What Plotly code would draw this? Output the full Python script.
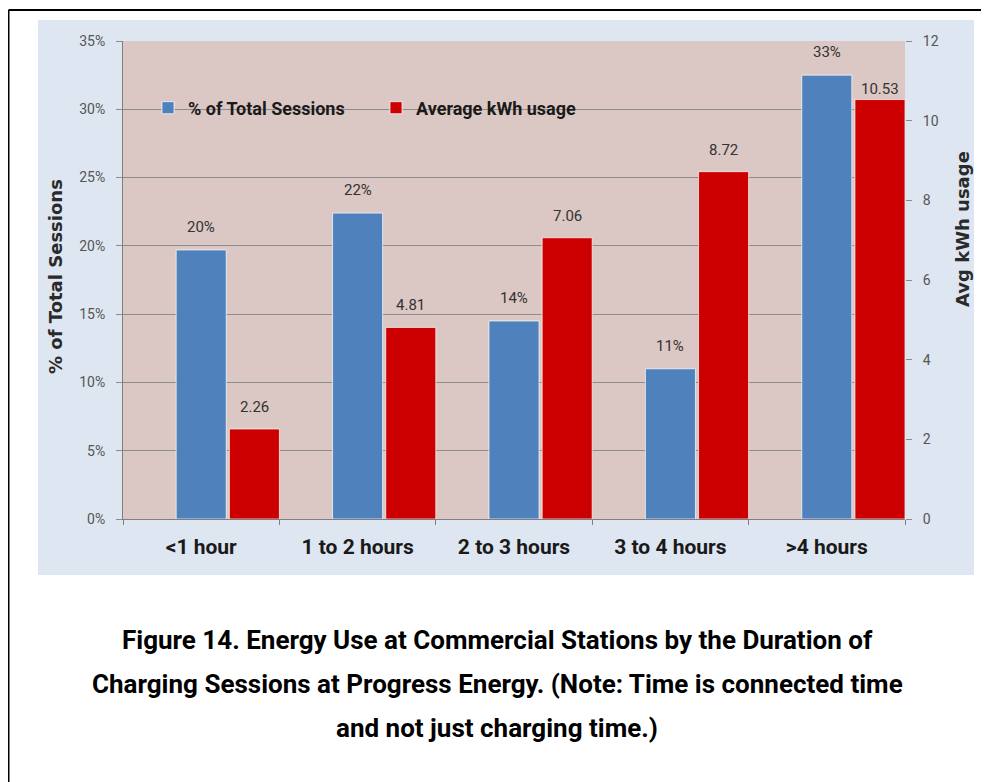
import plotly.graph_objects as go

# ---- data ----
categories = ["<1 hour", "1 to 2 hours", "2 to 3 hours", "3 to 4 hours", ">4 hours"]
pct_sessions = [19.7, 22.4, 14.5, 11.0, 32.5]
pct_labels = ["20%", "22%", "14%", "11%", "33%"]
avg_kwh = [2.26, 4.81, 7.06, 8.72, 10.53]
kwh_labels = ["2.26", "4.81", "7.06", "8.72", "10.53"]
series_names = ["% of Total Sessions", "Average kWh usage"]
caption_lines = [
    "Figure 14. Energy Use at Commercial Stations by the Duration of",
    "Charging Sessions at Progress Energy. (Note: Time is connected time",
    "and not just charging time.)",
]

# ---- geometry (screen pixels; page body has an 8px margin) ----
W, H = 989, 782
OFF = 8
PL, PR, PT, PB = 123, 905, 41, 519


def px(x):
    return (x - PL) / (PR - PL)


def py(y):
    return (PB - y) / (PB - PT)


BLUE = "#4f81bd"
RED = "#cc0000"
FONT = "Roboto, Arial, sans-serif"
TITLE_FONT = "DejaVu Sans, Verdana, sans-serif"

bw = 0.32
off_blue = -0.16
off_red = 0.18

fig = go.Figure()
fig.add_trace(go.Bar(
    x=categories, y=pct_sessions, name=series_names[0],
    marker=dict(color=BLUE, line=dict(color="rgba(255,255,255,0.7)", width=1)),
    width=bw, offset=off_blue, yaxis="y", hoverinfo="skip",
))
fig.add_trace(go.Bar(
    x=categories, y=avg_kwh, name=series_names[1],
    marker=dict(color=RED, line=dict(color="rgba(255,255,255,0.7)", width=1)),
    width=bw, offset=off_red, yaxis="y2", hoverinfo="skip",
))

annotations = []
for i, (v, t) in enumerate(zip(pct_sessions, pct_labels)):
    annotations.append(dict(x=i + off_blue + bw / 2, y=v, xref="x", yref="y",
                            text=t, showarrow=False, yanchor="middle", yshift=23,
                            font=dict(family=FONT, size=15, color="#333333")))
kwh_shift = [22, 22, 22, 22, 11]
for i, (v, t) in enumerate(zip(avg_kwh, kwh_labels)):
    annotations.append(dict(x=i + off_red + bw / 2, y=v, xref="x", yref="y2",
                            text=t, showarrow=False, yanchor="middle", yshift=kwh_shift[i],
                            font=dict(family=FONT, size=15, color="#333333")))

# axis titles
annotations.append(dict(x=px(55), y=py(277), xref="paper", yref="paper",
                        xanchor="center", yanchor="middle",
                        text="<b>% of Total Sessions</b>", textangle=-90, showarrow=False,
                        font=dict(family=TITLE_FONT, size=18, color="#2a2a2a")))
annotations.append(dict(x=px(962), y=py(229), xref="paper", yref="paper",
                        xanchor="center", yanchor="middle",
                        text="<b>Avg kWh usage</b>", textangle=-90, showarrow=False,
                        font=dict(family=TITLE_FONT, size=18, color="#2a2a2a")))

# caption
for j, line in enumerate(caption_lines):
    annotations.append(dict(x=px(497), y=py(640 + 44 * j), xref="paper", yref="paper",
                            text="<b>" + line + "</b>", showarrow=False,
                            xanchor="center", yanchor="middle",
                            font=dict(family=FONT, size=26, color="#000000")))

shapes = [
    # chart panel
    dict(type="rect", xref="paper", yref="paper", x0=px(38), x1=px(974), y0=py(575), y1=py(20),
         fillcolor="#dee6f1", line=dict(width=0), layer="below"),
    # plot area
    dict(type="rect", xref="paper", yref="paper", x0=0, x1=1, y0=0, y1=1,
         fillcolor="#dbc7c3", line=dict(width=0), layer="below"),
    # outer frame (top and left)
    dict(type="line", xref="paper", yref="paper", x0=px(8.5), x1=px(995), y0=py(10), y1=py(10),
         line=dict(color="black", width=2)),
    dict(type="line", xref="paper", yref="paper", x0=px(8.5), x1=px(8.5), y0=py(10), y1=py(790),
         line=dict(color="black", width=2)),
]

fig.update_layout(
    width=W - OFF, height=H - OFF,
    margin=dict(l=PL - OFF, r=W - PR, t=PT - OFF, b=H - PB, pad=0),
    paper_bgcolor="white",
    plot_bgcolor="rgba(0,0,0,0)",
    barmode="overlay",
    showlegend=True,
    legend=dict(orientation="h", x=px(148), y=py(108), xanchor="left", yanchor="middle",
                bgcolor="rgba(0,0,0,0)",
                font=dict(family=FONT, size=18, color="#1a1a1a", weight="bold"),
                itemwidth=30, entrywidth=183, entrywidthmode="pixels"),
    xaxis=dict(type="category", range=[-0.5, 4.5], showgrid=False,
               ticks="outside", tickson="boundaries", ticklen=5, tickcolor="#7f7f7f",
               showline=True, linecolor="#7f7f7f", linewidth=1,
               tickfont=dict(family=FONT, size=21, color="#1a1a1a", weight="bold"),
               ticklabelstandoff=9),
    yaxis=dict(range=[0, 35], dtick=5, ticksuffix="%", showgrid=True, gridcolor="#8c8c8c",
               gridwidth=1, ticks="outside", ticklen=6, tickcolor="#8c8c8c",
               showline=True, linecolor="#7f7f7f", linewidth=1, zeroline=False,
               tickfont=dict(family=FONT, size=14, color="#555555"), ticklabelstandoff=8),
    yaxis2=dict(range=[0, 12], dtick=2, overlaying="y", side="right", showgrid=False,
                ticks="outside", ticklen=6, tickcolor="#8c8c8c", zeroline=False,
                showline=False,
                tickfont=dict(family=FONT, size=14, color="#555555"), ticklabelstandoff=8),
    annotations=annotations,
    shapes=shapes,
)

fig.write_html("out.html")
